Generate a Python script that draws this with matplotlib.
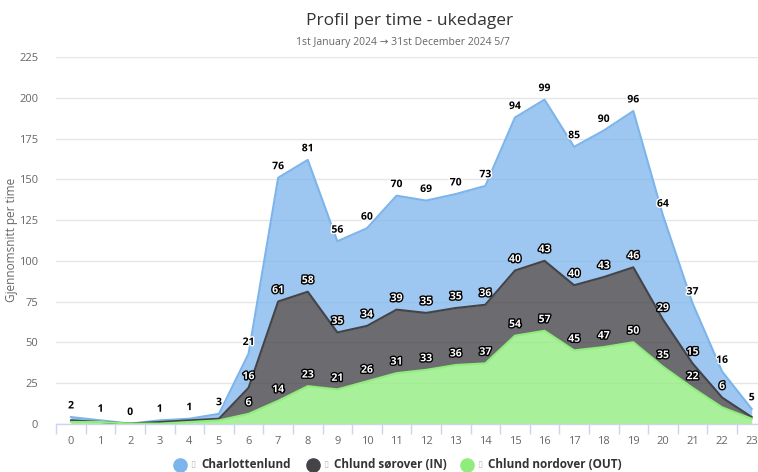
import numpy as np
import matplotlib.pyplot as plt
import matplotlib.patheffects as pe
from matplotlib.ticker import FixedLocator

plt.rcParams['font.family'] = ['Open Sans', 'DejaVu Sans']

# --- data ---
hours = list(range(24))
charlottenlund = [2, 1, 0, 1, 1, 3, 21, 76, 81, 56, 60, 70, 69, 70, 73, 94, 99, 85, 90, 96, 64, 37, 16, 5]
chlund_in = [1, 0, 0, 1, 1, 1, 16, 61, 58, 35, 34, 39, 35, 35, 36, 40, 43, 40, 43, 46, 29, 15, 6, 1]
chlund_out = [1, 1, 0, 0, 1, 2, 6, 14, 23, 21, 26, 31, 33, 36, 37, 54, 57, 45, 47, 50, 35, 22, 10, 3]
series_names = ["Charlottenlund", "Chlund s\u00f8rover (IN)", "Chlund nordover (OUT)"]

TITLE = "Profil per time - ukedager"
SUBTITLE = "1st January 2024 \u2192 31st December 2024 5/7"
YLABEL = "Gjennomsnitt per time"

C_BLUE = "#7cb5ec"
C_DARK = "#434348"
C_GREEN = "#90ed7d"

W, H = 758, 472
fig = plt.figure(figsize=(W / 100, H / 100), dpi=100)
# plot area in pixels (the original chart was a bit wider, right side cropped)
x0, x1 = 56.2, 766.5
y_top, y_bot = 57.3, 423.6
ax = fig.add_axes([x0 / W, 1 - y_bot / H, (x1 - x0) / W, (y_bot - y_top) / H])

x = np.array(hours)
out = np.array(chlund_out)
inn = out + np.array(chlund_in)
top = inn + np.array(charlottenlund)

ax.fill_between(x, inn, top, color=C_BLUE, alpha=0.75, lw=0, zorder=2)
ax.fill_between(x, out, inn, color=C_DARK, alpha=0.78, lw=0, zorder=2)
ax.fill_between(x, 0, out, color=C_GREEN, alpha=0.78, lw=0, zorder=2)
ax.plot(x, top, color=C_BLUE, lw=1.5, zorder=3)
ax.plot(x, inn, color=C_DARK, lw=1.5, zorder=3)
ax.plot(x, out, color=C_GREEN, lw=1.5, zorder=3)

ax.set_xlim(-0.5, 23.5)
ax.set_ylim(0, 225)
ax.set_yticks(range(0, 226, 25))
ax.yaxis.grid(True, color="#e6e6e6", lw=1)
ax.set_axisbelow(True)
ax.tick_params(axis="y", length=0, labelsize=8, labelcolor="#666666", pad=13)

ax.set_xticks(hours)
ax.set_xticklabels([str(h) for h in hours])
ax.xaxis.set_minor_locator(FixedLocator(np.arange(-0.5, 24, 1)))
ax.tick_params(axis="x", which="major", length=0, labelsize=8, labelcolor="#666666", pad=9)
ax.tick_params(axis="x", which="minor", length=7, width=1, color="#ccd6eb")

for s in ["left", "right", "top"]:
    ax.spines[s].set_visible(False)
ax.spines["bottom"].set_color("#ccd6eb")
ax.spines["bottom"].set_linewidth(1)

fig.text(12 / W, 1 - 240 / H, YLABEL, rotation=90, ha="center", va="center",
         fontsize=8.5, color="#666666")

# data labels
px_per_unit = (y_bot - y_top) / 225
min_gap = 16  # px, labels closer than this get hidden


def put_label(xv, yv, txt, dark_text):
    if dark_text:
        col, stroke = "black", "white"
    else:
        col, stroke = "white", "black"
    ax.annotate(txt, (xv, yv), xytext=(0, 8), textcoords="offset points",
                ha="center", va="center", fontsize=7.5, fontweight="bold",
                color=col, zorder=5,
                path_effects=[pe.withStroke(linewidth=2, foreground=stroke)])


for i in hours:
    put_label(i, top[i], str(charlottenlund[i]), True)
    last = top[i]
    if (last - inn[i]) * px_per_unit >= min_gap:
        put_label(i, inn[i], str(chlund_in[i]), False)
        last = inn[i]
    if (last - out[i]) * px_per_unit >= min_gap:
        put_label(i, out[i], str(chlund_out[i]), False)

fig.text(410 / W, 1 - 21 / H, TITLE, ha="center", va="center", fontsize=12.5, color="#333333")
fig.text(403 / W, 1 - 42 / H, SUBTITLE, ha="center", va="center", fontsize=7.5, color="#666666")

# legend, drawn by hand (circle, missing-glyph box, bold name)
leg_y = 1 - 465 / H
for xc, col, name in zip([180, 313, 467], [C_BLUE, C_DARK, C_GREEN], series_names):
    fig.add_artist(plt.Line2D([xc / W], [leg_y], ls="none", marker="o", markersize=9.5,
                              color=col, transform=fig.transFigure))
    fig.text((xc + 13) / W, leg_y, "\u25af", ha="center", va="center", fontsize=6.5, color="#bbbbbb")
    fig.text((xc + 21) / W, leg_y, name, ha="left", va="center", fontsize=8.5,
             fontweight="bold", color="#333333")

fig.savefig("out.png", dpi=100)
